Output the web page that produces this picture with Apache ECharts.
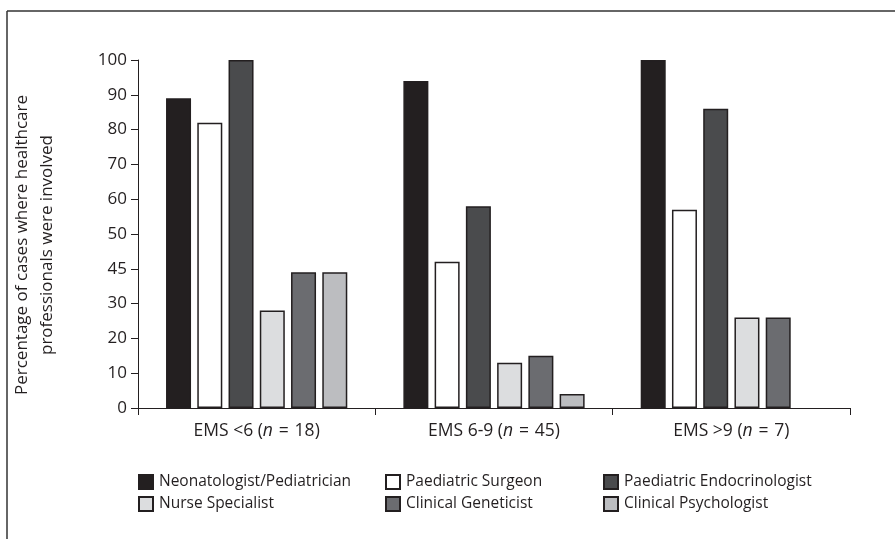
<!DOCTYPE html>
<html>
<head>
<meta charset="utf-8">
<script src="https://cdn.jsdelivr.net/npm/echarts@6/dist/echarts.min.js"></script>
<style>
  html, body { margin: 0; padding: 0; background: #fff; }
  #chart { width: 895px; height: 539px; }
</style>
</head>
<body>
<div id="chart"></div>
<script>
const categories = ['EMS <6', 'EMS 6-9', 'EMS >9']
const groupSizes = [18, 45, 7]
const yTickLabels = ['0', '10', '20', '30', '45', '50', '60', '70', '80', '90', '100']

const neonatologist = [89, 94, 100]
const surgeon = [82, 42, 57]
const endocrinologist = [100, 58, 86]
const nurse = [28, 13, 26]
const geneticist = [39, 15, 26]
const psychologist = [39, 4, null]

const font = '"Open Sans", "DejaVu Sans", sans-serif'
const ink = '#231f20'

const seriesDefs = [
  { name: 'Neonatologist/Pediatrician', data: neonatologist, color: '#231f20' },
  { name: 'Paediatric Surgeon', data: surgeon, color: '#ffffff' },
  { name: 'Paediatric Endocrinologist', data: endocrinologist, color: '#4a4b4d' },
  { name: 'Nurse Specialist', data: nurse, color: '#dcdddf' },
  { name: 'Clinical Geneticist', data: geneticist, color: '#6b6c70' },
  { name: 'Clinical Psychologist', data: psychologist, color: '#bcbdc0' }
]

const chart = echarts.init(document.getElementById('chart'), null, { renderer: 'canvas' })

// three legend columns, two rows each
const legendCol = (names, left) => ({
  data: names,
  orient: 'vertical',
  left: left,
  top: 469,
  icon: 'rect',
  itemWidth: 14,
  itemHeight: 14,
  itemGap: 6,
  selectedMode: false,
  textStyle: { fontFamily: font, fontSize: 15.5, color: ink, padding: [0, 0, 0, 1] }
})

chart.setOption({
  animation: false,
  grid: { left: 138, right: 45, top: 60, bottom: 131 },
  legend: [
    legendCol(['Neonatologist/Pediatrician', 'Nurse Specialist'], 133),
    legendCol(['Paediatric Surgeon', 'Clinical Geneticist'], 380),
    legendCol(['Paediatric Endocrinologist', 'Clinical Psychologist'], 598)
  ],
  graphic: [
    { type: 'line', shape: { x1: 7, y1: 11, x2: 895, y2: 11 }, style: { stroke: '#333', lineWidth: 1.5 } },
    { type: 'line', shape: { x1: 7, y1: 11, x2: 7, y2: 539 }, style: { stroke: '#333', lineWidth: 1.5 } }
  ],
  xAxis: {
    type: 'category',
    data: categories,
    axisLine: { lineStyle: { color: ink, width: 1 } },
    axisTick: { show: true, length: 7, inside: false, lineStyle: { color: ink } },
    axisLabel: {
      margin: 14,
      color: ink,
      fontFamily: font,
      fontSize: 17.5,
      // slightly wider spaces around "=" as in the figure
      formatter: (v, i) => v + ' ({i|n}\u2004=\u2004' + groupSizes[i] + ')',
      rich: { i: { fontStyle: 'italic', fontFamily: font, fontSize: 17.5, color: ink } }
    }
  },
  yAxis: {
    type: 'value',
    min: 0,
    max: 100,
    interval: 10,
    name: 'Percentage of cases where healthcare\nprofessionals were involved',
    nameLocation: 'middle',
    nameGap: 78,
    nameTextStyle: { fontFamily: font, fontSize: 17, color: ink, lineHeight: 25, padding: [0, 22, 0, 0] },
    axisLine: { show: true, lineStyle: { color: ink, width: 1 } },
    axisTick: { show: true, length: 7, lineStyle: { color: ink } },
    splitLine: { show: false },
    axisLabel: {
      margin: 11,
      color: ink,
      fontFamily: font,
      fontSize: 17,
      formatter: v => yTickLabels[Math.round(v / 10)]
    }
  },
  series: seriesDefs.map(s => ({
    name: s.name,
    type: 'bar',
    data: s.data,
    barWidth: 25,
    barGap: '25%',
    itemStyle: { color: s.color, borderColor: ink, borderWidth: 1.5 }
  }))
})
</script>
</body>
</html>
